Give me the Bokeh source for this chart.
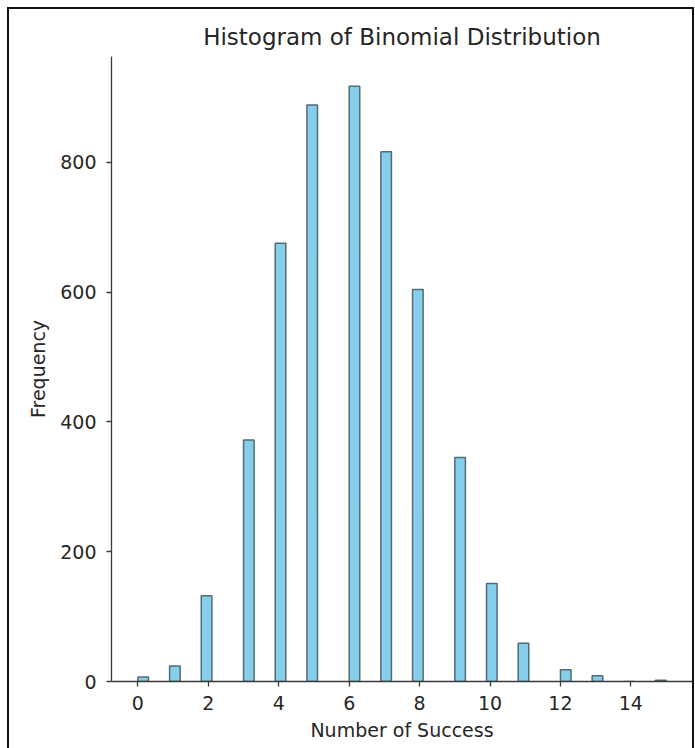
import numpy as np
from bokeh.plotting import figure
from bokeh.models import ColumnDataSource, Range1d, FixedTicker, InlineStyleSheet
from bokeh.embed import file_html
from bokeh.resources import INLINE

# Counts of successes from the simulated binomial draws
successes = list(range(16))
frequency = [7, 24, 132, 372, 675, 888, 917, 816, 604, 345, 151, 59, 18, 9, 0, 2]
x_ticks = [0, 2, 4, 6, 8, 10, 12, 14]
y_ticks = [0, 200, 400, 600, 800]

# 50 equal bins over [0, 15]; each integer outcome falls into one of them
n_bins = 50
bin_width = 15 / n_bins
left = [min(int(np.floor(k / bin_width + 1e-9)), n_bins - 1) * bin_width for k in successes]
right = [l + bin_width for l in left]

src = ColumnDataSource(dict(left=left, right=right, top=frequency,
                            bottom=[0] * len(frequency)))

FONT = "DejaVu Sans"
TEXT = "#262626"
SPINE = "#3a3a3a"

# dark frame around the page, open at the bottom edge
frame_css = InlineStyleSheet(css="""
:host { position: relative; }
:host::after {
  content: "";
  position: absolute;
  left: 7px; top: 7px; right: 1px; bottom: -10px;
  border: 2px solid #111;
  border-bottom: none;
  pointer-events: none;
  z-index: 100;
}
""")

p = figure(frame_width=581, frame_height=625,
           min_border_left=111, min_border_right=3,
           min_border_top=56, min_border_bottom=67,
           x_range=Range1d(-0.75, 15.75),
           y_range=Range1d(0, max(frequency) * 1.05),
           output_backend="svg", toolbar_location=None,
           title="Histogram of Binomial Distribution",
           stylesheets=[frame_css])

p.quad(left="left", right="right", top="top", bottom="bottom", source=src,
       fill_color="#87CEEB", line_color="#4f6c77", line_width=1.5)

p.title.align = "center"
p.title.text_font = FONT
p.title.text_font_size = "23px"
p.title.text_font_style = "normal"
p.title.text_color = TEXT
p.title.standoff = 13

p.grid.visible = False
p.outline_line_color = None
p.background_fill_color = "white"
p.border_fill_color = "white"

for ax in (p.xaxis[0], p.yaxis[0]):
    ax.axis_line_color = SPINE
    ax.axis_line_width = 1.3
    ax.major_tick_line_color = SPINE
    ax.major_tick_line_width = 1.3
    ax.major_tick_out = 5
    ax.major_tick_in = 0
    ax.minor_tick_line_color = None
    ax.major_label_text_font = FONT
    ax.major_label_text_font_size = "19px"
    ax.major_label_text_color = TEXT
    ax.axis_label_text_font = FONT
    ax.axis_label_text_font_size = "19px"
    ax.axis_label_text_font_style = "normal"
    ax.axis_label_text_color = TEXT

p.xaxis[0].ticker = FixedTicker(ticks=x_ticks)
p.yaxis[0].ticker = FixedTicker(ticks=y_ticks)
p.xaxis[0].axis_label = "Number of Success"
p.yaxis[0].axis_label = "Frequency"
p.xaxis[0].major_label_standoff = 9
p.xaxis[0].axis_label_standoff = 6
p.yaxis[0].major_label_standoff = 10
p.yaxis[0].axis_label_standoff = 8

open("out.html", "w").write(file_html(p, INLINE))
